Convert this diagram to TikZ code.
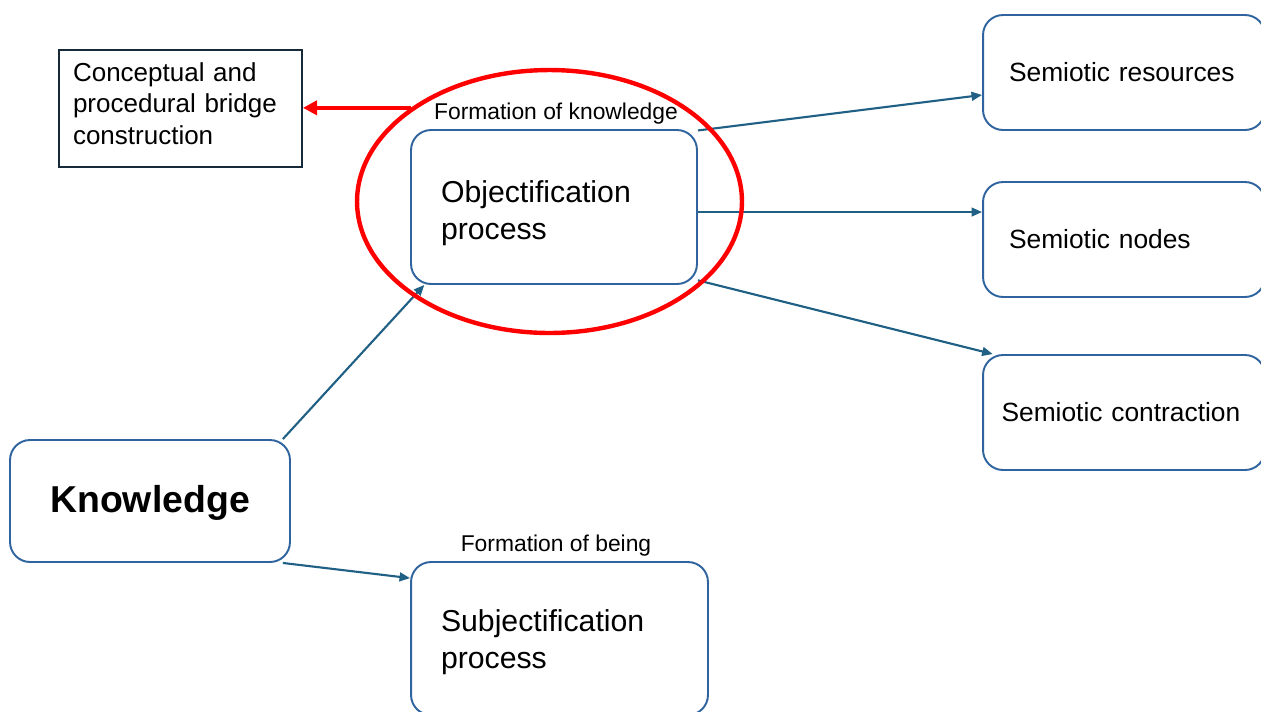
\documentclass[tikz,border=0pt]{standalone}
\usepackage{fontspec}
\setmainfont{Liberation Sans}
\usetikzlibrary{arrows.meta}
\usetikzlibrary{shapes.geometric}
\definecolor{boxblue}{RGB}{47,100,158}
\definecolor{linkblue}{RGB}{31,96,132}
\definecolor{bridgeline}{RGB}{22,42,58}
\tikzstyle{stage}=[draw=boxblue, line width=1.1pt, rounded corners=0.4cm, align=left, inner ysep=0pt]
\tikzstyle{semiotic}=[stage, minimum width=5.64cm, minimum height=2.3cm, font=\fontsize{15}{18}\selectfont]
\tikzstyle{link}=[linkblue, line width=1.2pt, -{Triangle[length=6pt,width=5pt]}]
\tikzstyle{caption}=[font=\fontsize{13}{15}\selectfont, inner sep=0pt]

\begin{document}
\begin{tikzpicture}[x=0.02cm, y=-0.02cm]
  \useasboundingbox (0,0) rectangle (1261,711);
  \node[draw=bridgeline, line width=1.1pt, align=left, inner xsep=0.28cm, inner ysep=0pt,
        text width=4.3cm, minimum height=2.34cm, font=\fontsize{14.8}{18}\selectfont]
    (bridge) at (180.5,108.5) {Conceptual and\\procedural bridge\\construction\rule[-6pt]{0pt}{0pt}};
  \node[stage, text width=4.52cm, inner xsep=0.6cm, minimum height=3.08cm,
        font=\fontsize{17.2}{21}\selectfont]
    (obj) at (554,207) {\rule{0pt}{19pt}Objectification\\process};
  \node[caption] (fk) at (556,114) {Formation of knowledge};
  \node[semiotic, text width=4.6cm, inner xsep=0.52cm] (res) at (1124,72.5) {Semiotic resources};
  \node[semiotic, text width=4.6cm, inner xsep=0.52cm] (nod) at (1124,239.5) {Semiotic nodes};
  \node[semiotic, text width=4.9cm, inner xsep=0.37cm] (con) at (1124,412.5) {Semiotic contraction};
  \node[stage, align=center, minimum width=5.6cm, minimum height=2.44cm, text height=18pt,
        font=\bfseries\fontsize{21.3}{25}\selectfont]
    (know) at (150,501) {Knowledge};
  \node[stage, text width=4.74cm, inner xsep=0.6cm, minimum height=3.06cm,
        font=\fontsize{17.2}{21}\selectfont]
    (subj) at (559.5,638.5) {\rule{0pt}{17pt}Subjectification\\process};
  \node[caption] (fb) at (556,546) {Formation of being};

  \draw[link] (know.25) -- (obj.211);
  \draw[link] (know.-25) -- (subj.158.5);
  \draw[link] (obj.28) -- (res.189);
  \draw[link] (obj.-2) -- (obj.-2 -| nod.west);
  \draw[link] (obj.-27) -- (con.156);

  \node[draw=red, line width=2.5pt, ellipse, inner sep=0pt,
        minimum width=7.7cm, minimum height=5.26cm] (ring) at (549.5,201.5) {};
  \draw[red, line width=2.2pt, -{Triangle[length=8pt,width=8pt]}]
    (ring.146) -- (ring.146 -| bridge.east);
\end{tikzpicture}
\end{document}
